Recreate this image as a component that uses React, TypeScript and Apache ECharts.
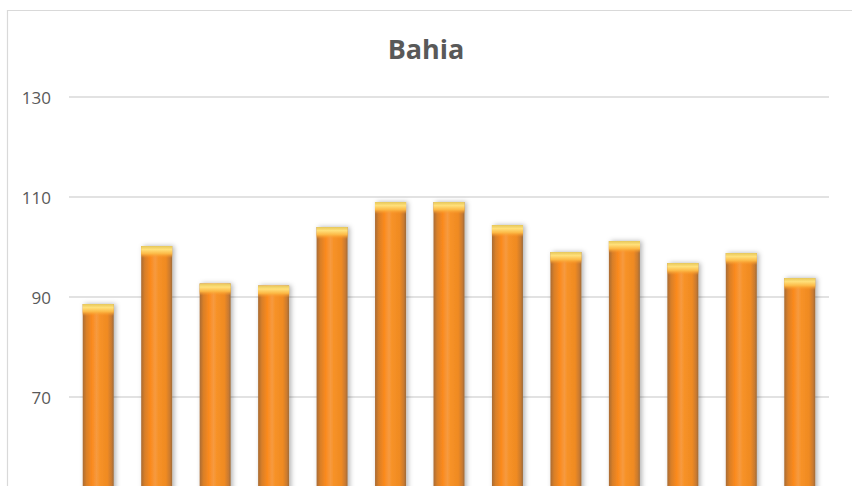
import React, { useEffect, useRef } from "react";
import * as echarts from "echarts";

const titleText = "Bahia";
const categories = ["1", "2", "3", "4", "5", "6", "7", "8", "9", "10", "11", "12", "13"];
const values = [88.6, 100.2, 92.7, 92.3, 104, 109, 109, 104.4, 99, 101.2, 96.8, 98.8, 93.8];
const yTicks = [30, 50, 70, 90, 110, 130];

export default function App() {
  const ref = useRef<HTMLDivElement>(null);
  useEffect(() => {
    document.body.style.margin = "0";
    document.body.style.overflow = "hidden";
    const chart = echarts.init(ref.current!, null, { renderer: "svg" });
    const barGrad = new echarts.graphic.LinearGradient(0, 0, 1, 0, [
      { offset: 0, color: "#a96b33" },
      { offset: 0.12, color: "#d97f28" },
      { offset: 0.3, color: "#fb8a1d" },
      { offset: 0.45, color: "#f69a40" },
      { offset: 0.55, color: "#f79227" },
      { offset: 0.8, color: "#ef8a22" },
      { offset: 0.93, color: "#c97a30" },
      { offset: 1, color: "#9e6a38" },
    ]);
    const capGrad = new echarts.graphic.LinearGradient(0, 0, 0, 1, [
      { offset: 0, color: "#e6c75a" },
      { offset: 0.3, color: "#ffe07a" },
      { offset: 0.65, color: "#fcb845" },
      { offset: 1, color: "rgba(250,150,40,0)" },
    ]);
    chart.setOption({
      animation: false,
      title: {
        text: titleText,
        left: "center",
        top: 30,
        textStyle: { fontFamily: "Open Sans", fontWeight: "bold", fontSize: 27, color: "#595959" },
      },
      graphic: [
        {
          type: "rect",
          shape: { x: 7.5, y: 10.5, width: 900, height: 700 },
          style: { fill: "none", stroke: "#d9d9d9", lineWidth: 1.2 },
          silent: true,
        },
      ],
      grid: { left: 69, right: 23, top: 97, bottom: 23, containLabel: false },
      xAxis: {
        type: "category",
        data: categories,
        axisLine: { show: false },
        axisTick: { show: false },
        axisLabel: { show: false },
      },
      yAxis: {
        type: "value",
        min: yTicks[0],
        max: yTicks[yTicks.length - 1],
        interval: 20,
        axisLine: { show: false },
        axisTick: { show: false },
        axisLabel: {
          fontFamily: "Open Sans",
          fontSize: 17,
          color: "#595959",
          margin: 18,
          formatter: (v: number) => (v >= 70 ? String(v) : ""),
        },
        splitLine: { lineStyle: { color: "#d9d9d9", width: 1.5 } },
      },
      series: [
        {
          type: "bar",
          data: values,
          barWidth: 31,
          itemStyle: {
            color: barGrad,
            shadowBlur: 5,
            shadowOffsetX: 2,
            shadowOffsetY: 0,
            shadowColor: "rgba(0,0,0,0.3)",
          },
          z: 2,
        },
        {
          type: "pictorialBar",
          data: values,
          symbol: "rect",
          symbolSize: [31, 12],
          symbolPosition: "end",
          symbolOffset: [0, 0],
          itemStyle: { color: capGrad },
          z: 3,
        },
      ],
    });
    return () => chart.dispose();
  }, []);
  return <div ref={ref} style={{ width: 852, height: 620 }} />;
}
